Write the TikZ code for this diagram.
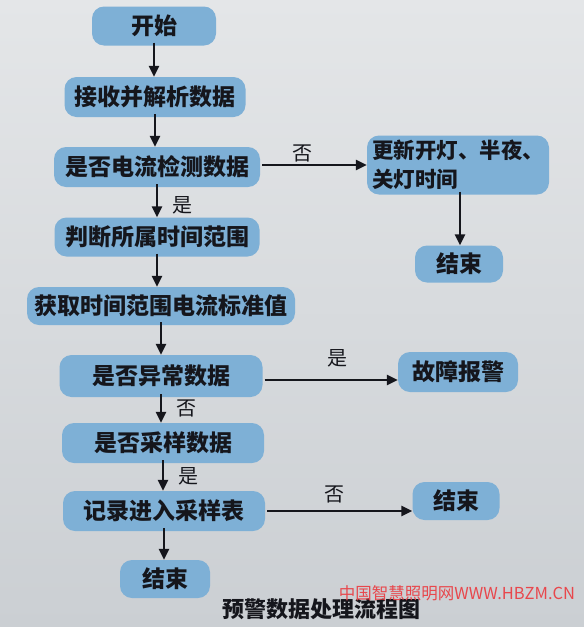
\documentclass[tikz,border=0pt]{standalone}
\usepackage{fontspec}
\newfontfamily\cjk{Noto Sans CJK SC}
\usetikzlibrary{arrows.meta}
\definecolor{boxblue}{HTML}{7EB0D6}
\definecolor{bgtop}{HTML}{E4E6E8}
\definecolor{bgbot}{HTML}{CBCFD3}
\definecolor{txt}{HTML}{15161C}
\definecolor{wmred}{HTML}{E8474C}
\begin{document}
\begin{tikzpicture}[x=1pt,y=-1pt,
  flowbox/.style={draw=none,fill=boxblue,rounded corners=12pt,text=txt,
    font=\cjk\bfseries\fontsize{23}{29}\selectfont,inner sep=0pt,
    minimum height=40pt,align=center},
  arr/.style={-{Triangle[length=11pt,width=10pt]},line width=2.4pt,color=txt},
  lab/.style={font=\cjk\fontsize{20}{22}\selectfont,text=txt,inner sep=0pt}]
\useasboundingbox (0,0) rectangle (584,627);
\shade[top color=bgtop,bottom color=bgbot] (0,0) rectangle (584,627);
% main column
\node[flowbox,minimum width=124pt,minimum height=39pt] (start) at (154,26) {开始};
\node[flowbox,minimum width=181pt] (recv) at (155,97) {接收并解析数据};
\node[flowbox,minimum width=206pt] (q1) at (157,167) {是否电流检测数据};
\node[flowbox,minimum width=205pt,minimum height=39pt] (judge) at (157,237) {判断所属时间范围};
\node[flowbox,minimum width=268pt,minimum height=38pt] (get) at (161,306) {获取时间范围电流标准值};
\node[flowbox,minimum width=203pt,minimum height=42pt] (q2) at (161,376) {是否异常数据};
\node[flowbox,minimum width=202pt] (q3) at (163,443) {是否采样数据};
\node[flowbox,minimum width=202pt] (rec) at (164,511) {记录进入采样表};
\node[flowbox,minimum width=90pt,minimum height=38pt] (end3) at (165,579) {结束};
% right column
\node[flowbox,font=\cjk\bfseries\fontsize{21.5}{29}\selectfont,minimum width=182pt,minimum height=59pt,align=left,text width=172pt] (upd) at (458,165) {更新开灯、半夜、\\关灯时间};
\node[flowbox,minimum width=88pt,minimum height=37pt] (end1) at (459,264) {结束};
\node[flowbox,minimum width=120pt] (alarm) at (458,372) {故障报警};
\node[flowbox,minimum width=87pt,minimum height=38pt] (end2) at (456,501) {结束};
% vertical arrows
\draw[arr] ([yshift=3pt]start.south) -- (start.south |- recv.north);
\draw[arr] ([yshift=3pt]recv.south) -- (recv.south |- q1.north);
\draw[arr] ([yshift=3pt]q1.south) -- (q1.south |- judge.north);
\draw[arr] ([yshift=3pt]judge.south) -- (judge.south |- get.north);
\draw[arr] ([yshift=3pt]get.south) -- (get.south |- q2.north);
\draw[arr] ([yshift=3pt]q2.south) -- (q2.south |- q3.north);
\draw[arr] ([yshift=3pt]q3.south) -- (q3.south |- rec.north);
\draw[arr] ([yshift=3pt]rec.south) -- (rec.south |- end3.north);
\draw[arr] ([xshift=2pt,yshift=3pt]upd.south) -- ([xshift=2pt]upd.south |- end1.north);
% horizontal arrows
\draw[arr] ([xshift=2pt,yshift=2pt]q1.east) -- ([yshift=2pt]q1.east -| upd.west);
\draw[arr] ([xshift=2pt,yshift=-4pt]q2.east) -- ([yshift=-4pt]q2.east -| alarm.west);
\draw[arr] ([xshift=2pt]rec.east) -- (rec.east -| end2.west);
% labels
\node[lab] (l1) at (302,153) {否};
\node[lab] (l2) at (182,205) {是};
\node[lab] (l3) at (337,358) {是};
\node[lab] (l4) at (186,408) {否};
\node[lab] (l5) at (188,476) {是};
\node[lab] (l6) at (334,494) {否};
% caption and watermark
\node[font=\cjk\bfseries\fontsize{22}{24}\selectfont,text=txt,inner sep=0pt] (cap) at (321,609) {预警数据处理流程图};
\node[font=\cjk\fontsize{16.5}{18}\selectfont,text=wmred,inner sep=0pt] (wm) at (457,593) {中国智慧照明网WWW.HBZM.CN};
\end{tikzpicture}
\end{document}
